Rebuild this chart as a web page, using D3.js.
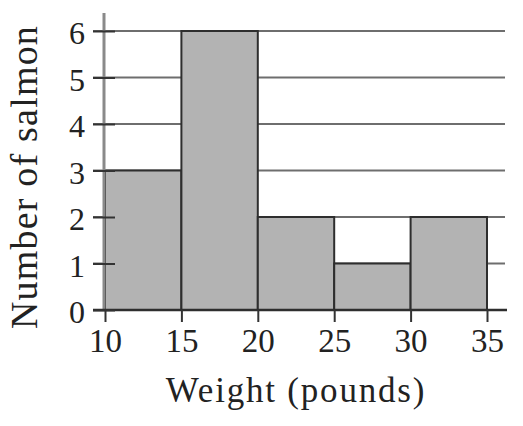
<!DOCTYPE html>
<html>
<head>
<meta charset="utf-8">
<script src="https://cdn.jsdelivr.net/npm/d3@7"></script>
<style>
  body { margin: 0; background: #fff; }
  text { font-family: "Liberation Serif", "Times New Roman", serif; fill: #222; }
</style>
</head>
<body>
<script>
// salmon weights, bins of 5 pounds
var binStarts = [10, 15, 20, 25, 30],
    binWidth = 5,
    counts = [3, 6, 2, 1, 2],
    xTicks = [10, 15, 20, 25, 30, 35],
    yTicks = [0, 1, 2, 3, 4, 5, 6];

var W = 523, H = 426;

var x = d3.scaleLinear().domain([10, 35]).range([105, 487]),
    y = d3.scaleLinear().domain([0, 6]).range([310, 31]);

var svg = d3.select("body").append("svg")
    .attr("width", W)
    .attr("height", H);

// horizontal grid lines behind the bars
svg.append("g")
    .selectAll("line")
    .data(yTicks.filter(d => d > 0))
  .enter().append("line")
    .attr("x1", 93).attr("x2", 505)
    .attr("y1", d => y(d)).attr("y2", d => y(d))
    .attr("stroke", "#6e6e6e")
    .attr("stroke-width", 2);

// bars
svg.append("g")
    .selectAll("rect")
    .data(binStarts)
  .enter().append("rect")
    .attr("x", d => x(d))
    .attr("y", (d, i) => y(counts[i]))
    .attr("width", d => x(d + binWidth) - x(d))
    .attr("height", (d, i) => y(0) - y(counts[i]))
    .attr("fill", "#b3b3b3")
    .attr("stroke", "#2e2e2e")
    .attr("stroke-width", 2);

// y axis line (grey, runs above the top tick)
svg.append("line")
    .attr("x1", x(10) - 1).attr("x2", x(10) - 1)
    .attr("y1", 13).attr("y2", y(0))
    .attr("stroke", "#8a8a8a")
    .attr("stroke-width", 3);

// x baseline
svg.append("line")
    .attr("x1", 93).attr("x2", 507)
    .attr("y1", y(0)).attr("y2", y(0))
    .attr("stroke", "#2e2e2e")
    .attr("stroke-width", 2.5);

var yAxis = svg.append("g")
    .attr("transform", "translate(" + x(10) + ",0)")
    .call(d3.axisLeft(y).tickValues(yTicks).tickSize(12).tickPadding(8).tickFormat(d3.format("d")));
yAxis.select(".domain").remove();
yAxis.selectAll(".tick line")
    .attr("x2", -12).attr("x1", 10)
    .attr("stroke", "#333").attr("stroke-width", 2);
yAxis.selectAll(".tick text")
    .attr("font-size", 32)
    .attr("dy", "0.4em")
    .style("font-family", "Liberation Serif, serif")
    .attr("fill", "#222");

var xAxis = svg.append("g")
    .attr("transform", "translate(0," + y(0) + ")")
    .call(d3.axisBottom(x).tickValues(xTicks).tickSize(12).tickPadding(7).tickFormat(d3.format("d")));
xAxis.select(".domain").remove();
xAxis.selectAll(".tick line")
    .attr("stroke", "#333").attr("stroke-width", 2);
xAxis.selectAll(".tick text")
    .attr("font-size", 33)
    .style("font-family", "Liberation Serif, serif")
    .attr("fill", "#222");

// axis titles
svg.append("text")
    .attr("x", 296).attr("y", 402)
    .attr("text-anchor", "middle")
    .attr("font-size", 35)
    .attr("letter-spacing", 1.8)
    .text("Weight (pounds)");

svg.append("text")
    .attr("transform", "translate(37,177) rotate(-90)")
    .attr("text-anchor", "middle")
    .attr("font-size", 38)
    .attr("letter-spacing", 1.2)
    .text("Number of salmon");
</script>
</body>
</html>
